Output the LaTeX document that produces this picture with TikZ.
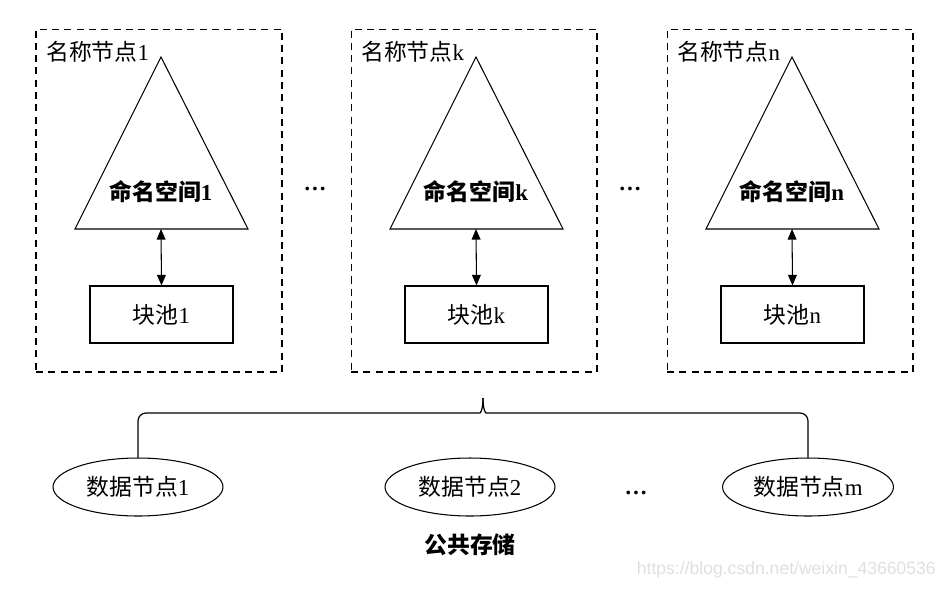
\documentclass[tikz,border=0pt]{standalone}
\usepackage{fontspec}
\setmainfont{Liberation Serif}
\newfontfamily\cjk{Noto Sans CJK SC}
\newfontfamily\wmfont{Liberation Sans}
\usetikzlibrary{positioning,arrows.meta,shapes.geometric}

\begin{document}
\begin{tikzpicture}[
    x=0.02cm, y=-0.02cm,
    every node/.style={font=\fontsize{13}{15}\selectfont},
    namebox/.style={draw, dash pattern=on 4pt off 3pt, line width=0.6pt,
      minimum width=4.92cm, minimum height=6.86cm, inner sep=0pt},
    pool/.style={draw, line width=0.6pt, minimum width=2.86cm, minimum height=1.14cm},
    dnode/.style={draw, ellipse, line width=0.6pt, minimum width=3.4cm, minimum height=1.16cm},
    link/.style={{Triangle[length=6pt,width=5pt]}-{Triangle[length=6pt,width=5pt]}, line width=0.6pt},
    brace/.style={line width=0.7pt, rounded corners=0.16cm},
  ]
    % Canvas in pixel units, y pointing down
    \useasboundingbox (0,0) rectangle (949,589);

    % Name nodes: dashed frame, namespace triangle, block pool
    \foreach \cx/\s in {161/1, 476/k, 792/n} {
      \node[namebox] (nn\s) at (\cx-2,200.5) {};
      \node[anchor=west] (lbl\s) at (\cx-121,52) {{\cjk 名称节点}\s};
      \coordinate (top\s) at (\cx,57);
      \coordinate (base\s) at (\cx,229);
      \draw[line width=0.6pt] (top\s) -- (\cx-86,229) -- (\cx+87,229) -- cycle;
      \node[font=\bfseries\fontsize{13}{15}\selectfont] (ns\s) at (\cx,192)
        {{\cjk 命名空间}\s};
      \node[pool] (bp\s) at (\cx+0.5,314.5) {{\cjk 块池}\s};
      \draw[link] (base\s) -- (bp\s.north);
    }
    \node (dotsA) at (315,189) {\bfseries\ldots};
    \node (dotsB) at (630,189) {\bfseries\ldots};

    % Data nodes (shared storage)
    \node[dnode] (d1) at (138,487) {{\cjk 数据节点}1};
    \node[dnode] (d2) at (470,487) {{\cjk 数据节点}2};
    \node[dnode] (dm) at (808,487) {{\cjk 数据节点}m};
    \node (dotsC) at (636,493) {\bfseries\ldots};
    \node[font=\bfseries\fontsize{13}{15}\selectfont] (store) at (470,545) {\cjk 公共存储};

    % Brace joining the data nodes
    \coordinate (tip) at (483,398);
    \draw[brace] (d1.north) |- (472,413) .. controls (480,413) and (483,411) .. (tip);
    \draw[brace] (dm.north) |- (494,413) .. controls (486,413) and (483,411) .. (tip);

    % Watermark
    \node[anchor=east, text=gray!25, font=\wmfont\fontsize{10}{12}\selectfont]
      (wm) at (942,570) {https://blog.csdn.net/weixin\_43660536};
  \end{tikzpicture}
\end{document}
